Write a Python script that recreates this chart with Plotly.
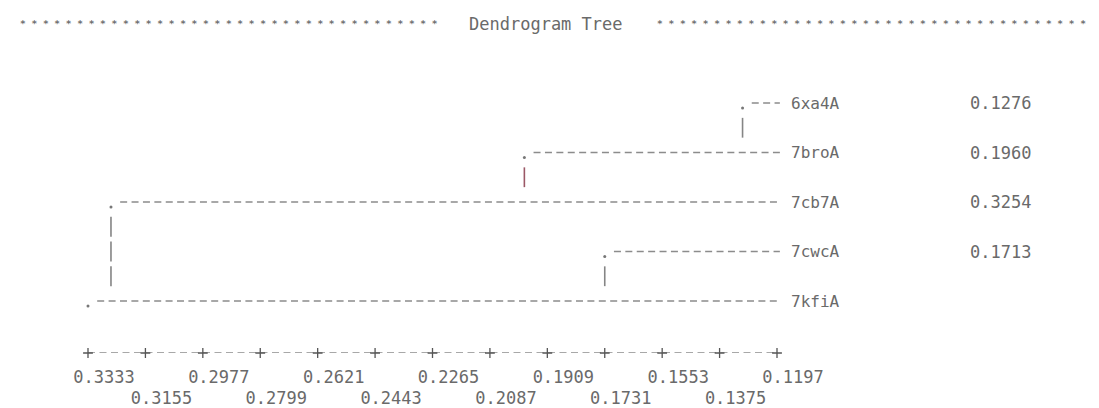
import math
import plotly.graph_objects as go

# ---------------- data ----------------
leaves = ["6xa4A", "7broA", "7cb7A", "7cwcA", "7kfiA"]
merge_heights = [0.1276, 0.1960, 0.3254, 0.1713]   # height where each row's branch joins
join_rows = [1, 2, 4, 4]                              # row the vertical connector reaches
height_labels = ["0.1276", "0.1960", "0.3254", "0.1713", ""]
tick_labels = ["0.3333", "0.3155", "0.2977", "0.2799", "0.2621", "0.2443",
               "0.2265", "0.2087", "0.1909", "0.1731", "0.1553", "0.1375", "0.1197"]
tick_vals = [float(t) for t in tick_labels]
title_text = "Dendrogram Tree"

# ---------------- styling ----------------
FONT = "DejaVu Sans Mono"
TXT = "#6a6a6a"
DASH_C = "#8c8c8c"
BAR_C = "#858585"
RED_BAR = "#9b5866"
STAR_C = "#707070"

OFF = 8                     # page body margin
W, H = 1099, 408
L, T = 40 - OFF, 60 - OFF   # figure margins
PW, PH = 1019, 293          # plot area size
R = W - L - PW
B = H - T - PH

x_start = tick_vals[0]
x_end = tick_vals[-1]
ncols = 60
step = (x_start - x_end) / ncols


def col_x(h):
    c = math.floor((x_start - h) / step + 1e-9)
    return x_start - c * step


def paper_x(px):   # page pixel -> paper fraction
    return (px - OFF - L) / PW


def paper_y(py):
    return 1 - (py - OFF - T) / PH


node_x = [col_x(h) for h in merge_heights] + [x_start]

fig = go.Figure()

# horizontal dashed branches
for r, nx in enumerate(node_x):
    fig.add_trace(go.Scatter(
        x=[nx - 0.8 * step, x_end - 0.25 * step], y=[r, r], mode="lines",
        line=dict(color=DASH_C, width=1.6, dash="7px,4.4px"),
        hoverinfo="skip", xaxis="x", yaxis="y"))

# dots at nodes
fig.add_trace(go.Scatter(
    x=node_x, y=[r + 0.1 for r in range(len(node_x))], mode="markers",
    marker=dict(color="#777777", size=3, symbol="circle"),
    hoverinfo="skip"))

# vertical connectors
for r, (nx, tr) in enumerate(zip(node_x[:-1], join_rows)):
    fig.add_trace(go.Scatter(
        x=[nx, nx], y=[r + 0.3, tr - 0.3], mode="lines",
        line=dict(color=RED_BAR if r == 1 else BAR_C, width=1.6,
                  dash="20px,4.75px"),
        hoverinfo="skip"))

# scale bar "+----+----+"
y_axis_row = 5.0505
fig.add_trace(go.Scatter(
    x=[x_start, x_end], y=[y_axis_row, y_axis_row], mode="lines",
    line=dict(color=DASH_C, width=1.4, dash="7px,4.5px"),
    cliponaxis=False, hoverinfo="skip", xaxis="x2", yaxis="y"))
fig.add_trace(go.Scatter(
    x=tick_vals, y=[y_axis_row] * len(tick_vals), mode="markers",
    marker=dict(symbol="cross-thin", size=7, line=dict(color="#555555", width=1.3)),
    cliponaxis=False, hoverinfo="skip", xaxis="x2", yaxis="y"))

# leaf labels and heights
for r, name in enumerate(leaves):
    fig.add_annotation(x=x_end, y=r, xref="x", yref="y", text=name,
                       xanchor="left", yanchor="middle", xshift=12, showarrow=False,
                       font=dict(family=FONT, size=16, color=TXT))
    if height_labels[r]:
        fig.add_annotation(x=x_end, y=r, xref="x", yref="y", text=height_labels[r],
                           xanchor="center", yanchor="middle", xshift=223, showarrow=False,
                           font=dict(family=FONT, size=17, color=TXT))

# title line
ty = paper_y(24)
fig.add_annotation(x=paper_x(440), y=ty, xref="paper", yref="paper",
                   text="* " * 36 + "*", xanchor="right", yanchor="middle",
                   showarrow=False,
                   font=dict(family=FONT, size=9.5, color=STAR_C, weight="bold"))
fig.add_annotation(x=paper_x(546), y=ty, xref="paper", yref="paper",
                   text=title_text, xanchor="center", yanchor="middle",
                   showarrow=False, font=dict(family=FONT, size=17, color=TXT))
fig.add_annotation(x=paper_x(655), y=ty, xref="paper", yref="paper",
                   text=("* " * 38).strip(), xanchor="left", yanchor="middle",
                   showarrow=False,
                   font=dict(family=FONT, size=9.5, color=STAR_C, weight="bold"))

k = 689 / (x_start - x_end)
xmax = x_start + 48 / k
xmin = x_start - (1059 - 88) / k

even_v = tick_vals[0::2]
even_t = tick_labels[0::2]
odd_v = tick_vals[1::2]
odd_t = tick_labels[1::2]

axis_common = dict(range=[xmax, xmin], showgrid=False, zeroline=False, showline=False,
                   ticks="", ticklabelshift=-16, automargin=False,
                   tickfont=dict(family=FONT, size=17, color=TXT))

fig.update_layout(
    width=W, height=H,
    margin=dict(l=L, r=R, t=T, b=B, autoexpand=False),
    paper_bgcolor="white", plot_bgcolor="white",
    showlegend=False,
    xaxis=dict(tickvals=even_v, ticktext=even_t, ticklabelstandoff=12, **axis_common),
    xaxis2=dict(tickvals=odd_v, ticktext=odd_t, ticklabelstandoff=33,
                overlaying="x", anchor="y", side="bottom", **axis_common),
    yaxis=dict(range=[y_axis_row, -0.8687], showgrid=False, zeroline=False,
               showline=False, showticklabels=False, ticks="", automargin=False),
)

fig.write_html("out.html")
